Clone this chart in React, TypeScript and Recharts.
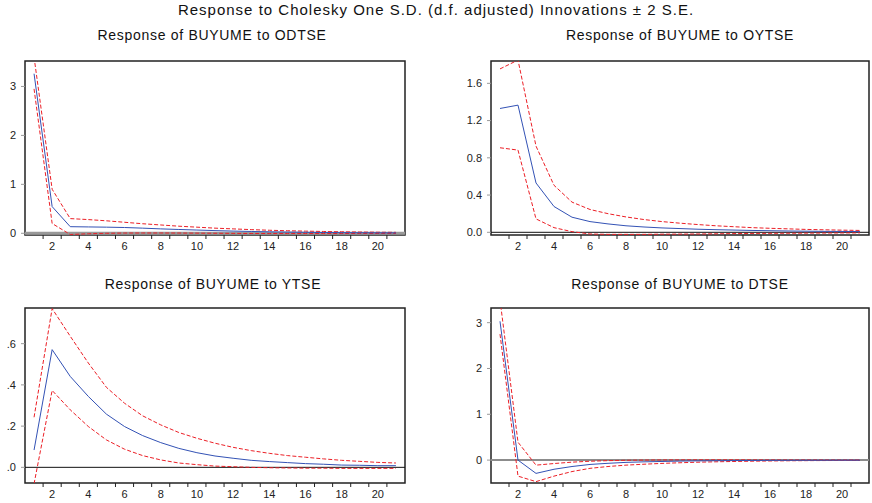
import React from "react";
import { LineChart, Line, XAxis, YAxis, ReferenceLine, ReferenceArea } from "recharts";

const FONT = "'Liberation Sans', Arial, sans-serif";
const RED = "#ec1f26";
const BLUE = "#3352b5";

const periods = Array.from({ length: 21 }, (_, i) => i + 1);
const xLabels = [2, 4, 6, 8, 10, 12, 14, 16, 18, 20];

// Response of BUYUME to ODTSE
const odtseResp = [3.26, 0.545, 0.135, 0.13, 0.125, 0.118, 0.105, 0.09, 0.078, 0.066, 0.055, 0.045, 0.037, 0.03, 0.025, 0.02, 0.016, 0.013, 0.011, 0.009, 0.008];
const odtseUpper = [3.6, 0.9, 0.3, 0.28, 0.255, 0.225, 0.195, 0.17, 0.145, 0.125, 0.105, 0.09, 0.075, 0.062, 0.052, 0.044, 0.037, 0.031, 0.026, 0.022, 0.02];
const odtseLower = [2.95, 0.2, -0.025, -0.01, 0.0, 0.005, 0.006, 0.006, 0.005, 0.003, 0.001, -0.002, -0.004, -0.005, -0.005, -0.005, -0.005, -0.005, -0.004, -0.004, -0.003];

// Response of BUYUME to OYTSE
const oytseResp = [1.33, 1.366, 0.53, 0.277, 0.162, 0.115, 0.09, 0.07, 0.057, 0.047, 0.04, 0.033, 0.028, 0.024, 0.02, 0.017, 0.014, 0.012, 0.01, 0.009, 0.008];
const oytseUpper = [1.755, 1.85, 0.926, 0.505, 0.324, 0.245, 0.2, 0.165, 0.137, 0.115, 0.098, 0.083, 0.07, 0.06, 0.05, 0.043, 0.037, 0.031, 0.027, 0.023, 0.02];
const oytseLower = [0.908, 0.883, 0.144, 0.05, 0.007, -0.018, -0.022, -0.022, -0.022, -0.02, -0.019, -0.018, -0.016, -0.014, -0.012, -0.011, -0.01, -0.009, -0.008, -0.007, -0.006];

// Response of BUYUME to YTSE
const ytseResp = [0.084, 0.571, 0.441, 0.344, 0.258, 0.198, 0.154, 0.12, 0.092, 0.071, 0.055, 0.044, 0.034, 0.028, 0.023, 0.018, 0.015, 0.011, 0.01, 0.008, 0.008];
const ytseUpper = [0.243, 0.77, 0.636, 0.506, 0.388, 0.311, 0.25, 0.206, 0.169, 0.141, 0.117, 0.097, 0.081, 0.068, 0.057, 0.049, 0.041, 0.034, 0.029, 0.024, 0.021];
const ytseLower = [-0.08, 0.373, 0.279, 0.198, 0.133, 0.088, 0.057, 0.036, 0.021, 0.013, 0.006, 0.003, 0.0, -0.002, -0.003, -0.004, -0.004, -0.005, -0.005, -0.005, -0.005];

// Response of BUYUME to DTSE
const dtseResp = [3.03, 0.0, -0.29, -0.2, -0.14, -0.095, -0.07, -0.05, -0.038, -0.03, -0.022, -0.017, -0.013, -0.01, -0.008, -0.006, -0.005, -0.004, -0.003, -0.002, -0.002];
const dtseUpper = [3.5, 0.39, -0.11, -0.075, -0.045, -0.025, -0.012, -0.004, 0.0, 0.003, 0.004, 0.005, 0.005, 0.005, 0.004, 0.004, 0.003, 0.003, 0.003, 0.002, 0.002];
const dtseLower = [2.75, -0.35, -0.47, -0.35, -0.25, -0.18, -0.14, -0.11, -0.09, -0.072, -0.058, -0.046, -0.037, -0.03, -0.024, -0.019, -0.015, -0.012, -0.01, -0.008, -0.006];

// tick at each period: draws the boundary mark to its left, label if even
const PeriodTick = (props: any) => {
  const { x, y, payload, step } = props;
  const v = Math.round(Number(payload.value));
  const bx = x - step / 2;
  return (
    <g>
      {v > 1 && <line x1={bx} x2={bx} y1={y - 6} y2={y - 2} stroke="#222" strokeWidth={1} />}
      {xLabels.includes(v) && (
        <text x={x} y={y + 9} textAnchor="middle" fontSize={11} fill="#222" fontFamily={FONT}>
          {v}
        </text>
      )}
    </g>
  );
};

type PanelProps = {
  resp: number[];
  upper: number[];
  lower: number[];
  domain: [number, number];
  yTicks: number[];
  fmt: (v: number) => string;
  zeroStroke: string;
  zeroWidth: number;
  left: number;
  plotLeft: number;
  plotRight: number;
  plotTop: number;
  plotBottom: number;
};

const Panel = (p: PanelProps) => {
  const rows = periods.map((period, i) => ({ period, resp: p.resp[i], upper: p.upper[i], lower: p.lower[i] }));
  const yw = p.plotLeft - p.left;
  const step = (p.plotRight - p.plotLeft) / 21;
  const rightMargin = 3;
  const width = p.plotRight - p.left + rightMargin;
  const topMargin = 5;
  const height = topMargin + (p.plotBottom - p.plotTop) + 22;

  return (
    <div style={{ position: "absolute", left: p.left, top: p.plotTop - topMargin }}>
      <LineChart width={width} height={height} data={rows} margin={{ top: topMargin, right: rightMargin, left: 0, bottom: 0 }}>
        <XAxis
          dataKey="period"
          type="number"
          domain={[0.5, 21.5]}
          ticks={periods}
          interval={0}
          tick={<PeriodTick step={step} />}
          tickLine={false}
          tickSize={4}
          tickMargin={2}
          axisLine={false}
          height={22}
          allowDataOverflow
        />
        <YAxis
          domain={p.domain}
          ticks={p.yTicks}
          allowDataOverflow
          width={yw}
          tickFormatter={p.fmt}
          axisLine={false}
          tickLine={{ stroke: "#999" }}
          tickSize={4}
          tickMargin={5}
          tick={{ fontSize: 11, fill: "#222", fontFamily: FONT }}
        />
        <ReferenceLine y={0} stroke={p.zeroStroke} strokeWidth={p.zeroWidth} />
        <Line dataKey="upper" stroke={RED} strokeWidth={1} strokeDasharray="4 2" dot={false} isAnimationActive={false} />
        <Line dataKey="lower" stroke={RED} strokeWidth={1} strokeDasharray="4 2" dot={false} isAnimationActive={false} />
        <Line dataKey="resp" stroke={BLUE} strokeWidth={1} dot={false} isAnimationActive={false} />
        <ReferenceArea x1={0.5} x2={21.5} y1={p.domain[0]} y2={p.domain[1]} fill="none" stroke="#222" strokeWidth={1.5} ifOverflow="visible" />
      </LineChart>
    </div>
  );
};

const subTitle: React.CSSProperties = {
  position: "absolute",
  fontFamily: FONT,
  fontSize: 14,
  letterSpacing: 0.7,
  color: "#111",
  width: 420,
  textAlign: "center",
  lineHeight: "16px",
};

const App = () => {
  const int = (v: number) => String(v);
  const one = (v: number) => v.toFixed(1);
  const dot = (v: number) => v.toFixed(1).replace(/^0/, "");
  return (
    <div style={{ position: "absolute", left: 0, top: 0, width: 872, height: 503, background: "#fff", overflow: "hidden" }}>
      <div style={{ position: "absolute", left: 0, top: 1, width: 872, textAlign: "center", fontFamily: FONT, fontSize: 15, lineHeight: "17px", color: "#111", letterSpacing: 1 }}>
        Response to Cholesky One S.D. (d.f. adjusted) Innovations ± 2 S.E.
      </div>
      <div style={{ ...subTitle, left: 2, top: 27 }}>Response of BUYUME to ODTSE</div>
      <div style={{ ...subTitle, left: 470, top: 27 }}>Response of BUYUME to OYTSE</div>
      <div style={{ ...subTitle, left: 3, top: 276 }}>Response of BUYUME to YTSE</div>
      <div style={{ ...subTitle, left: 470, top: 276 }}>Response of BUYUME to DTSE</div>

      <Panel resp={odtseResp} upper={odtseUpper} lower={odtseLower} domain={[-0.035, 3.52]} yTicks={[0, 1, 2, 3]} fmt={int}
        zeroStroke="#999" zeroWidth={3} left={0} plotLeft={25} plotRight={405} plotTop={61} plotBottom={235} />
      <Panel resp={oytseResp} upper={oytseUpper} lower={oytseLower} domain={[-0.029, 1.84]} yTicks={[0, 0.4, 0.8, 1.2, 1.6]} fmt={one}
        zeroStroke="#111" zeroWidth={1} left={440} plotLeft={491} plotRight={869} plotTop={61} plotBottom={235} />
      <Panel resp={ytseResp} upper={ytseUpper} lower={ytseLower} domain={[-0.076, 0.773]} yTicks={[0, 0.2, 0.4, 0.6]} fmt={dot}
        zeroStroke="#111" zeroWidth={1} left={0} plotLeft={25} plotRight={405} plotTop={308} plotBottom={483} />
      <Panel resp={dtseResp} upper={dtseUpper} lower={dtseLower} domain={[-0.5, 3.32]} yTicks={[0, 1, 2, 3]} fmt={int}
        zeroStroke="#8c8c8c" zeroWidth={2} left={440} plotLeft={491} plotRight={869} plotTop={308} plotBottom={483} />
    </div>
  );
};

export default App;
